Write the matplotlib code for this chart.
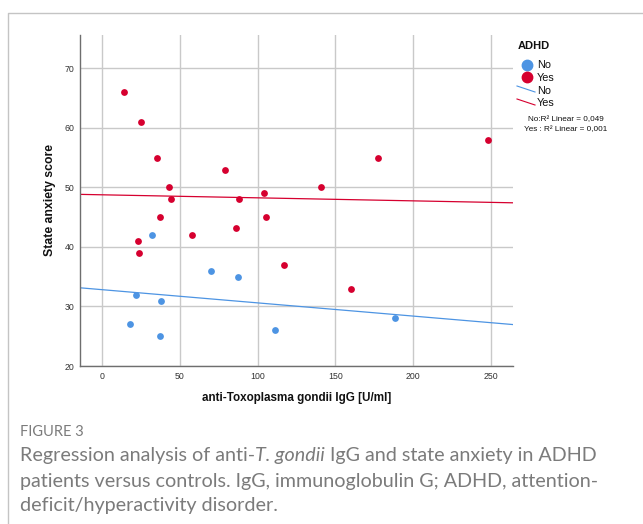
import numpy as np
import matplotlib
matplotlib.use("Agg")
import matplotlib.pyplot as plt
from matplotlib.lines import Line2D

# ---- data ----
yes_igg = [14.3, 25.2, 35.3, 43.2, 44.2, 37.2, 23.1, 24.1, 58.1, 79.1, 88.2,
           86.1, 104.3, 105.1, 117.1, 141.0, 160.0, 177.1, 248.1]
yes_anx = [66, 61, 55, 50, 48, 45, 41, 39, 42, 53, 48,
           43.2, 49, 45, 37, 50, 33, 55, 58]
no_igg = [32.3, 22.2, 38.2, 18.2, 37.2, 70.1, 87.2, 111.1, 188.0]
no_anx = [42, 32, 31, 27, 25, 36, 35, 26, 28]

x_ticks = [0, 50, 100, 150, 200, 250]
y_ticks = [20, 30, 40, 50, 60, 70]
r2_no = "0,049"
r2_yes = "0,001"

BLUE = "#4d94e3"
RED = "#d6002f"
GRID = "#c9c9c9"

W, H = 643, 524
fig = plt.figure(figsize=(W / 100, H / 100), dpi=100)
fig.patch.set_facecolor("white")

def fx(px):
    return px / W

def fy(py):
    return 1 - py / H

ax = fig.add_axes([fx(80), fy(366), fx(513) - fx(80), fy(35) - fy(366)])
ax.set_xlim(-14, 264)
ax.set_ylim(20, 75.6)
ax.set_xticks(x_ticks)
ax.set_yticks(y_ticks)
ax.grid(True, color=GRID, linewidth=1.0)
ax.set_axisbelow(True)
for s in ["top", "right"]:
    ax.spines[s].set_visible(False)
for s in ["left", "bottom"]:
    ax.spines[s].set_color("#6e6e6e")
    ax.spines[s].set_linewidth(1.0)
ax.tick_params(length=0, labelsize=6.3, labelcolor="#333333", pad=4)
for lab in ax.get_xticklabels() + ax.get_yticklabels():
    lab.set_family("Liberation Sans")

# fit lines
xx = np.array([-14, 264])
for xs, ys, c in [(no_igg, no_anx, BLUE), (yes_igg, yes_anx, RED)]:
    k, b = np.polyfit(xs, ys, 1)
    ax.plot(xx, k * xx + b, color=c, linewidth=0.9, zorder=2)

ax.scatter(no_igg, no_anx, s=24, color=BLUE, zorder=3, linewidths=0)
ax.scatter(yes_igg, yes_anx, s=24, color=RED, zorder=3, linewidths=0)

lf = "Liberation Sans"
fig.text(fx(50), fy(200), "State anxiety score", fontsize=8.8, fontweight="bold",
         family=lf, rotation=90, ha="center", va="center", color="#111111")
fig.text(fx(297), fy(398), "anti-Toxoplasma gondii IgG [U/ml]", fontsize=8.4,
         fontweight="bold", family=lf, ha="center", va="center", color="#111111")

# legend (manual)
fig.text(fx(518), fy(46), "ADHD", fontsize=8, fontweight="bold",
         family=lf, va="center", ha="left", color="#111111")
fig.add_artist(Line2D([fx(527)], [fy(65)], marker="o", markersize=7.5,
                      color=BLUE, linestyle="none", transform=fig.transFigure))
fig.add_artist(Line2D([fx(527)], [fy(77)], marker="o", markersize=7.5,
                      color=RED, linestyle="none", transform=fig.transFigure))
fig.text(fx(537), fy(65), "No", fontsize=7.8, family=lf, va="center", color="#111111")
fig.text(fx(537), fy(78), "Yes", fontsize=7.8, family=lf, va="center", color="#111111")
fig.add_artist(Line2D([fx(517), fx(535)], [fy(86), fy(92)], color=BLUE,
                      linewidth=0.8, transform=fig.transFigure))
fig.add_artist(Line2D([fx(517), fx(535)], [fy(99), fy(105)], color=RED,
                      linewidth=0.8, transform=fig.transFigure))
fig.text(fx(537), fy(91), "No", fontsize=7.8, family=lf, va="center", color="#111111")
fig.text(fx(537), fy(103), "Yes", fontsize=7.8, family=lf, va="center", color="#111111")
fig.text(fx(566), fy(120), "No:R\u00b2 Linear = " + r2_no, fontsize=5.9, family=lf,
         va="center", ha="center", color="#111111")
fig.text(fx(566), fy(129.5), "Yes : R\u00b2 Linear = " + r2_yes, fontsize=5.9, family=lf,
         va="center", ha="center", color="#111111")

# card border
fig.add_artist(Line2D([fx(7.5), fx(7.5), 1], [0, fy(12.5), fy(12.5)],
                      color="#c4c4c4", linewidth=1.0, transform=fig.transFigure))

# caption
cf = "Lato"
cc = "#7b7b7b"
fig.text(fx(20), fy(432), "FIGURE 3", fontsize=10.5, family=cf, color=cc,
         va="center", ha="left")
fs = 14.2
renderer = fig.canvas.get_renderer()
t1 = fig.text(fx(20), fy(455), "Regression analysis of anti-", fontsize=fs,
              family=cf, color=cc, va="center", ha="left")
bb = t1.get_window_extent(renderer)
t2 = fig.text(bb.x1 / W, fy(455), "T. gondii", fontsize=fs, family=cf,
              style="italic", color=cc, va="center", ha="left")
bb2 = t2.get_window_extent(renderer)
fig.text(bb2.x1 / W, fy(455), " IgG and state anxiety in ADHD", fontsize=fs,
         family=cf, color=cc, va="center", ha="left")
fig.text(fx(20), fy(481), "patients versus controls. IgG, immunoglobulin G; ADHD, attention-",
         fontsize=fs, family=cf, color=cc, va="center", ha="left")
fig.text(fx(20), fy(506), "deficit/hyperactivity disorder.", fontsize=fs,
         family=cf, color=cc, va="center", ha="left")

fig.savefig("out.png", dpi=100, facecolor="white")
